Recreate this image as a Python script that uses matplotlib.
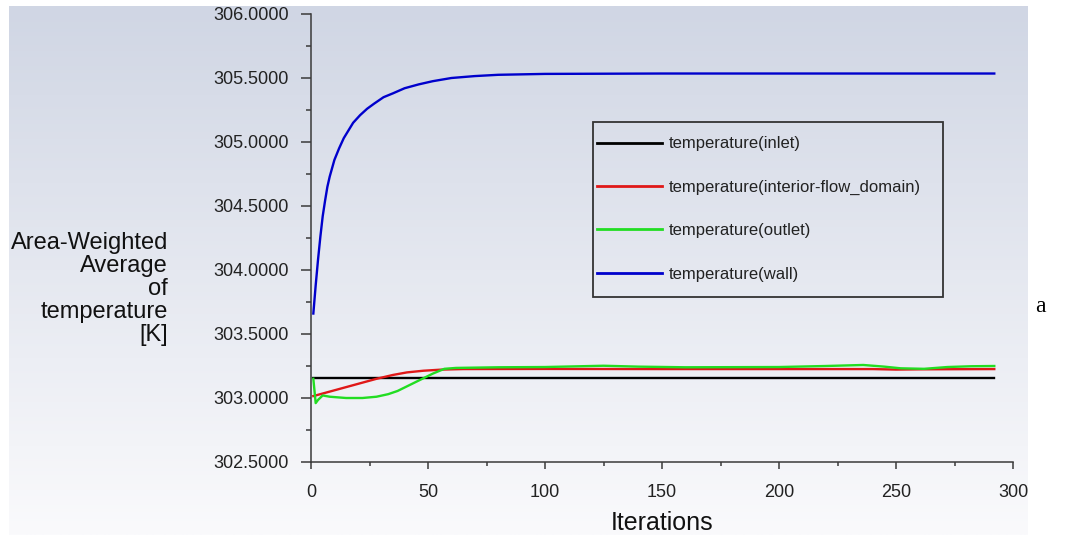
import numpy as np
import matplotlib
matplotlib.use("Agg")
import matplotlib.pyplot as plt
from matplotlib.patches import Rectangle

# ---------------- data ----------------
inlet_it = [1, 292]
inlet_T = [303.154, 303.154]

interior_it = [1, 10, 20, 28, 35, 41, 48, 56, 65, 100, 150, 200, 240, 250, 260, 292]
interior_T = [303.015, 303.06, 303.11, 303.15, 303.18, 303.20, 303.213, 303.222, 303.226,
              303.227, 303.226, 303.226, 303.226, 303.222, 303.224, 303.226]

outlet_it = [1, 2, 3, 5, 8, 15, 22, 28, 33, 37, 42, 47, 52, 57, 62, 80, 100, 125, 140, 160,
             200, 220, 236, 245, 252, 262, 272, 282, 292]
outlet_T = [303.15, 302.96, 302.985, 303.02, 303.01, 303.0, 303.0, 303.01, 303.03, 303.055,
            303.10, 303.145, 303.19, 303.228, 303.235, 303.24, 303.242, 303.252, 303.245,
            303.24, 303.242, 303.25, 303.258, 303.245, 303.232, 303.228, 303.242, 303.248,
            303.25]

wall_it = [1, 2, 3, 4, 5, 6, 7, 8, 10, 12, 14, 16, 18, 21, 24, 27, 31, 35, 40, 46, 52, 60,
           70, 80, 100, 150, 292]
wall_T = [303.66, 303.88, 304.08, 304.26, 304.42, 304.54, 304.65, 304.73, 304.86, 304.95,
          305.03, 305.09, 305.15, 305.21, 305.26, 305.30, 305.35, 305.38, 305.42, 305.45,
          305.475, 305.50, 305.515, 305.525, 305.532, 305.535, 305.535]

series_labels = ["temperature(inlet)", "temperature(interior-flow_domain)",
                 "temperature(outlet)", "temperature(wall)"]
series_colors = ["#000000", "#e01818", "#22dd22", "#0000cc"]

x_ticks = [0, 50, 100, 150, 200, 250, 300]
y_ticks = [302.5, 303.0, 303.5, 304.0, 304.5, 305.0, 305.5, 306.0]

# ---------------- figure ----------------
W, H = 1078, 540
fig = plt.figure(figsize=(W / 100, H / 100), dpi=100)
fig.patch.set_facecolor("white")

# gradient background panel
bg = fig.add_axes([0, 0, 1, 1], zorder=-5)
bg.set_xlim(0, W)
bg.set_ylim(H, 0)
bg.axis("off")
top = np.array([208, 214, 228]) / 255.0
bot = np.array([250, 250, 252]) / 255.0
t = np.linspace(0, 1, 256)[:, None]
grad = (top[None, :] * (1 - t) + bot[None, :] * t)[:, None, :]
grad = np.repeat(grad, 2, axis=1)
bg.imshow(grad, extent=(9, 1028, 535, 6), aspect="auto", interpolation="bilinear", zorder=0)

font = "Liberation Sans"

ax = fig.add_axes([311 / W, 1 - 462 / H, (1013 - 311) / W, (462 - 14) / H])
ax.set_facecolor("none")

lw = 1.7
ax.plot(inlet_it, inlet_T, color=series_colors[0], lw=lw, label=series_labels[0])
ax.plot(interior_it, interior_T, color=series_colors[1], lw=lw, label=series_labels[1])
ax.plot(outlet_it, outlet_T, color=series_colors[2], lw=lw, label=series_labels[2])
ax.plot(wall_it, wall_T, color=series_colors[3], lw=lw, label=series_labels[3])

ax.set_xlim(0, 300)
ax.set_ylim(302.5, 306.0)
for s in ["top", "right"]:
    ax.spines[s].set_visible(False)
for s in ["left", "bottom"]:
    ax.spines[s].set_color("#3a3a3a")
    ax.spines[s].set_linewidth(1.1)

ax.set_xticks(x_ticks)
ax.set_xticklabels([str(v) for v in x_ticks])
ax.set_yticks(y_ticks)
ax.set_yticklabels([f"{v:.4f}" for v in y_ticks])
ax.set_xticks(np.arange(25, 300, 50), minor=True)
ax.set_yticks(np.arange(302.75, 306.0, 0.5), minor=True)
ax.tick_params(axis="y", which="major", direction="out", length=7.2, width=1.1,
               color="#3a3a3a", pad=9, labelsize=13, labelcolor="#222222")
ax.tick_params(axis="y", which="minor", direction="out", length=3.6, width=1.1, color="#3a3a3a")
ax.tick_params(axis="x", which="major", direction="out", length=5, width=1.1,
               color="#3a3a3a", pad=11, labelsize=13, labelcolor="#222222")
ax.tick_params(axis="x", which="minor", direction="out", length=3, width=1.1, color="#3a3a3a")
for lab in ax.get_xticklabels() + ax.get_yticklabels():
    lab.set_fontfamily(font)

# axis titles
fig.text(662 / W, 1 - 523 / H, "Iterations", ha="center", va="center",
         fontsize=18, family=font, color="#111111")
fig.text(168 / W, 1 - 289 / H, "Area-Weighted\nAverage\nof\ntemperature\n[K]",
         ha="right", va="center", multialignment="right", fontsize=17,
         family=font, color="#111111", linespacing=1.06)

# legend
leg = ax.legend(loc="center left", bbox_to_anchor=(597 / W, 1 - 209 / H),
                bbox_transform=fig.transFigure, frameon=False, borderpad=0,
                borderaxespad=0, handlelength=3.9, handletextpad=0.38,
                labelspacing=1.7, prop={"family": font, "size": 12})
for line in leg.get_lines():
    line.set_linewidth(2.0)
for txt in leg.get_texts():
    txt.set_color("#222222")
fig.patches.append(Rectangle((593 / W, 1 - 297 / H), (943 - 593) / W, (297 - 122) / H,
                             transform=fig.transFigure, fill=False,
                             edgecolor="#333333", linewidth=1.3, zorder=5))

# side letter
fig.text(1040 / W, 1 - 306 / H, "a", ha="center", va="center", fontsize=17,
         family="Liberation Serif", color="black")

fig.savefig("out.png", dpi=100)
